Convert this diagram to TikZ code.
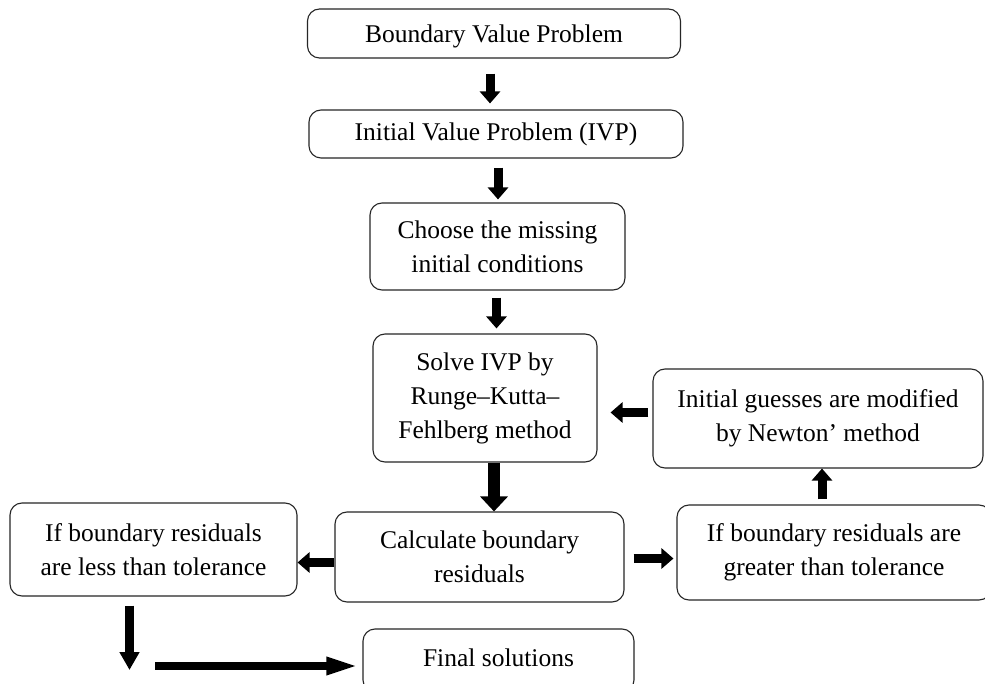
\documentclass[tikz,border=0pt]{standalone}
\usepackage{fontspec}
\setmainfont{Liberation Serif}
\usetikzlibrary{arrows.meta}
\begin{document}
\begin{tikzpicture}[x=1pt,y=-1pt,
  box/.style={draw=black!85, line width=1.1pt, rounded corners=12pt, align=center,
    inner sep=0pt, text=black, font=\fontsize{25.5}{34}\selectfont},
  arrS/.style={line width=9pt, -{Triangle[length=12pt,width=20pt]}},
  arrB/.style={line width=12pt, -{Triangle[length=15pt,width=27pt]}}]
\useasboundingbox (0,0) rectangle (985,684);
\fill[white] (0,0) rectangle (985,684);

\node[box, minimum width=373pt, minimum height=49pt] (b1) at (494,33.5) {\raisebox{-3pt}[\height][\depth]{Boundary Value Problem}};
\node[box, minimum width=374pt, minimum height=48pt] (b2) at (496,134) {Initial Value Problem (IVP)};
\node[box, minimum width=255pt, minimum height=87pt] (b3) at (497.5,246.5) {Choose the missing\\initial conditions};
\node[box, minimum width=224pt, minimum height=128pt] (b4) at (485,398) {Solve IVP by\\Runge–Kutta–\\Fehlberg method};
\node[box, minimum width=330pt, minimum height=99pt] (b5) at (818,418.5) {Initial guesses are modified\\by Newton’ method};
\node[box, minimum width=314pt, minimum height=95pt] (b6) at (834,552.5) {If boundary residuals are\\greater than tolerance};
\node[box, minimum width=289pt, minimum height=90pt] (b7) at (479.5,557) {Calculate boundary\\residuals};
\node[box, minimum width=287pt, minimum height=93pt] (b8) at (153.5,549.5) {If boundary residuals\\are less than tolerance};
\node[box, minimum width=271pt, minimum height=63pt] (b9) at (498.5,660.5) {\raisebox{3pt}[\height][\depth]{Final solutions}};

% arrows
\coordinate (p1) at ([xshift=-4pt]b1.south);
\draw[arrS, shorten <=15pt, shorten >=6pt] (p1) -- (p1 |- b2.north);
\coordinate (p2) at ([xshift=2pt]b2.south);
\draw[arrS, shorten <=9pt, shorten >=3pt] (p2) -- (p2 |- b3.north);
\coordinate (p3) at ([xshift=-1pt]b3.south);
\draw[arrS, shorten <=7pt, shorten >=5pt] (p3) -- (p3 |- b4.north);
\coordinate (p4) at ([xshift=9pt]b4.south);
\draw[arrB] (p4) -- (p4 |- b7.north);
\coordinate (p5) at ([yshift=6pt]b5.west);
\draw[arrS, shorten <=4pt, shorten >=13pt] (p5) -- (p5 -| b4.east);
\coordinate (p6) at ([xshift=-12pt]b6.north);
\draw[arrS, shorten <=5pt] (p6) -- (p6 |- b5.south);
\coordinate (p7) at ([yshift=-1.5pt]b7.east);
\draw[arrS, line width=8.5pt, shorten <=9pt, shorten >=3pt] (p7) -- (p7 -| b6.west);
\coordinate (p8) at ([yshift=-5.5pt]b7.west);
\draw[arrS] (p8) -- (p8 -| b8.east);
\coordinate (p9) at ([xshift=-24pt]b8.south);
\coordinate (d9) at (129.5,670);
\draw[arrS, -{Triangle[length=18pt,width=19pt]}, shorten <=9pt] (p9) -- (d9);
\coordinate (s10) at (155,666);
\draw[arrS, line width=8pt, -{Triangle[length=33pt,width=16pt]}, shorten >=3pt] (s10) -- (s10 -| b9.west);
\end{tikzpicture}
\end{document}
